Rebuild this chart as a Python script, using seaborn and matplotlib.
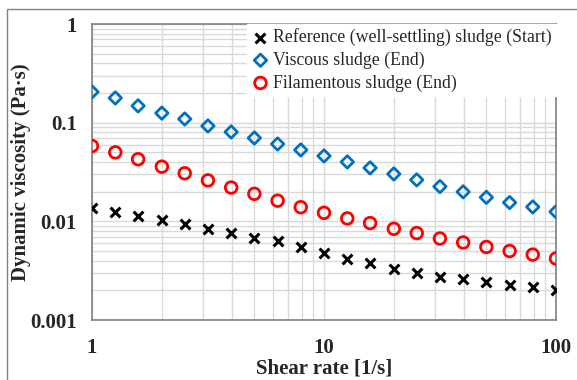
import numpy as np
import pandas as pd
import seaborn as sns
import matplotlib.pyplot as plt
from matplotlib.ticker import LogLocator, FixedLocator, NullFormatter, FixedFormatter
from matplotlib.patches import Rectangle

shear_rate = [1.0, 1.26, 1.58, 2.0, 2.51, 3.16, 3.98, 5.01, 6.31, 7.94, 10.0,
              12.6, 15.8, 20.0, 25.1, 31.6, 39.8, 50.1, 63.1, 79.4, 100.0]
reference = [0.0135, 0.0123, 0.0113, 0.0103, 0.0093, 0.0084, 0.0077, 0.0068, 0.0063, 0.0055, 0.00475,
             0.0042, 0.0038, 0.0033, 0.0030, 0.0027, 0.0026, 0.0024, 0.00225, 0.00215, 0.00202]
viscous = [0.205, 0.178, 0.148, 0.125, 0.109, 0.0926, 0.0805, 0.070, 0.0608, 0.0529, 0.046,
           0.040, 0.0348, 0.0302, 0.0263, 0.0225, 0.0199, 0.0175, 0.0155, 0.0140, 0.0125]
filamentous = [0.058, 0.050, 0.0426, 0.0358, 0.0307, 0.026, 0.022, 0.019, 0.0162, 0.0139, 0.0122,
               0.0107, 0.0096, 0.0084, 0.0076, 0.0067, 0.0061, 0.0055, 0.0050, 0.0046, 0.0042]
series_names = ["Reference (well-settling) sludge (Start)", "Viscous sludge (End)", "Filamentous sludge (End)"]
x_ticks = [1, 10, 100]
x_tick_labels = ["1", "10", "100"]
y_ticks = [0.001, 0.01, 0.1, 1]
y_tick_labels = ["0.001", "0.01", "0.1", "1"]

sns.set_theme(style="white")
plt.rcParams['font.family'] = ['Liberation Serif', 'DejaVu Serif']

fig = plt.figure(figsize=(5.77, 3.80), dpi=100)
ax = fig.add_axes([92/577, 1-320/380, (556-92)/577, (320-24)/380])

df = pd.DataFrame({"x": shear_rate, "ref": reference, "vis": viscous, "fil": filamentous})

sns.scatterplot(data=df, x="x", y="ref", marker="x", color="black", s=50, linewidth=2.2,
                label=series_names[0], ax=ax, zorder=4)
sns.scatterplot(data=df, x="x", y="vis", marker="D", s=40, facecolor="none",
                edgecolor="#0070C0", linewidth=2, label=series_names[1], ax=ax, zorder=4)
sns.scatterplot(data=df, x="x", y="fil", marker="o", s=70, facecolor="none",
                edgecolor="#FF0000", linewidth=2, label=series_names[2], ax=ax, zorder=4)

ax.set_xscale("log")
ax.set_yscale("log")
ax.set_xlim(1, 100)
ax.set_ylim(0.001, 1)

ax.xaxis.set_major_locator(FixedLocator(x_ticks))
ax.xaxis.set_major_formatter(FixedFormatter(x_tick_labels))
ax.yaxis.set_major_locator(FixedLocator(y_ticks))
ax.yaxis.set_major_formatter(FixedFormatter(y_tick_labels))
ax.xaxis.set_minor_locator(LogLocator(base=10, subs=np.arange(2, 10)))
ax.yaxis.set_minor_locator(LogLocator(base=10, subs=np.arange(2, 10)))
ax.xaxis.set_minor_formatter(NullFormatter())
ax.yaxis.set_minor_formatter(NullFormatter())

ax.grid(True, which="both", color="#d9d9d9", linewidth=1.0, zorder=0)
ax.set_axisbelow(True)

for s in ax.spines.values():
    s.set_color("#808080")
    s.set_linewidth(1.2)

ax.tick_params(axis="both", which="major", direction="inout", length=12, width=1.0,
               color="#808080", labelsize=15, pad=5)
ax.tick_params(axis="both", which="minor", length=0)
ax.tick_params(axis="x", pad=7)
for lab in ax.get_xticklabels() + ax.get_yticklabels():
    lab.set_fontweight("bold")
    lab.set_color("#262626")

ax.set_xlabel("Shear rate [1/s]", fontsize=15, fontweight="bold", color="#262626")
ax.set_ylabel("Dynamic viscosity (Pa·s)", fontsize=15, fontweight="bold", color="#262626")
ax.xaxis.set_label_coords(0.5, (320 - 368) / 296, transform=ax.transAxes)
ax.yaxis.set_label_coords((21 - 92) / 464, 0.5, transform=ax.transAxes)
ax.xaxis.label.set_va("center")
ax.yaxis.label.set_va("center")

leg = ax.legend(loc="upper right", frameon=True, fontsize=12.8, handletextpad=0.2,
                borderaxespad=0.0, borderpad=0.25, labelspacing=0.3, handlelength=1.0,
                fancybox=False, edgecolor="white", facecolor="white", framealpha=1.0)
leg.set_zorder(5)
for t in leg.get_texts():
    t.set_color("#262626")

fig.patches.append(Rectangle((7/577, -0.1), 1.2, 1-9/380+0.1, transform=fig.transFigure,
                             fill=False, edgecolor="#808080", linewidth=1.0))

fig.savefig("out.png", dpi=100)
